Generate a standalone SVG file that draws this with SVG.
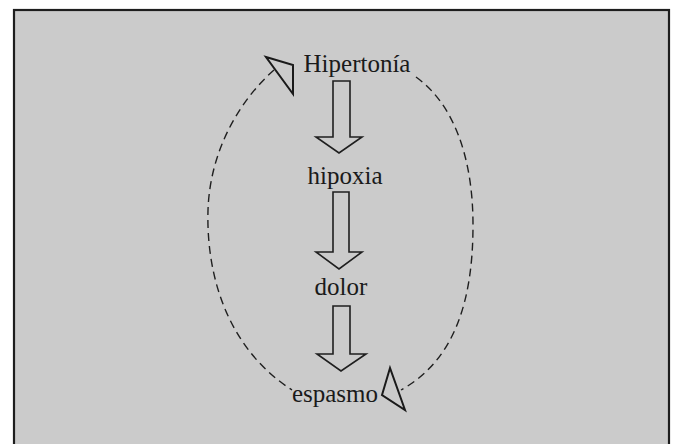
<svg xmlns="http://www.w3.org/2000/svg" width="674" height="444" viewBox="0 0 674 444">
<style>
.lbl{font-family:"Liberation Serif","Times New Roman",serif;font-size:25px;fill:#1a1a1a;text-anchor:middle}
.blk{fill:none;stroke:#1f1f1f;stroke-width:1.6;stroke-linejoin:miter}
.dash{fill:none;stroke:#1f1f1f;stroke-width:1.4;stroke-dasharray:8 5}
.tri{fill:none;stroke:#1a1a1a;stroke-width:2;stroke-linejoin:miter}
</style>
<rect x="0" y="0" width="674" height="444" fill="#ffffff"/>
<rect x="14" y="10" width="655" height="450" fill="#cbcbcb" stroke="#1e1e1e" stroke-width="2.2"/>
<g id="connectors">
<path class="dash" d="M274,70 C240,100 210,150 208,210 C206,280 230,350 292,390"/>
<path class="dash" d="M416,77 C455,105 473,160 473,225 C473,300 455,360 401,390"/>
<path class="blk" d="M333,81 H350 V137 H362 L339,153 L316,137 H333 Z"/>
<path class="blk" d="M333,192 H349 V252 H362 L339,269 L316,252 H333 Z"/>
<path class="blk" d="M333,306 H350 V354 H366 L341,371 L317,354 H333 Z"/>
<polygon class="tri" points="266,57 293,65 293,94"/>
<polygon class="tri" points="390,368 382,395 405,410"/>
</g>
<g id="n1"><text class="lbl" x="357" y="72">Hipertonía</text></g>
<g id="n2"><text class="lbl" x="345" y="184">hipoxia</text></g>
<g id="n3"><text class="lbl" x="341" y="295">dolor</text></g>
<g id="n4"><text class="lbl" x="335" y="402">espasmo</text></g>
</svg>
